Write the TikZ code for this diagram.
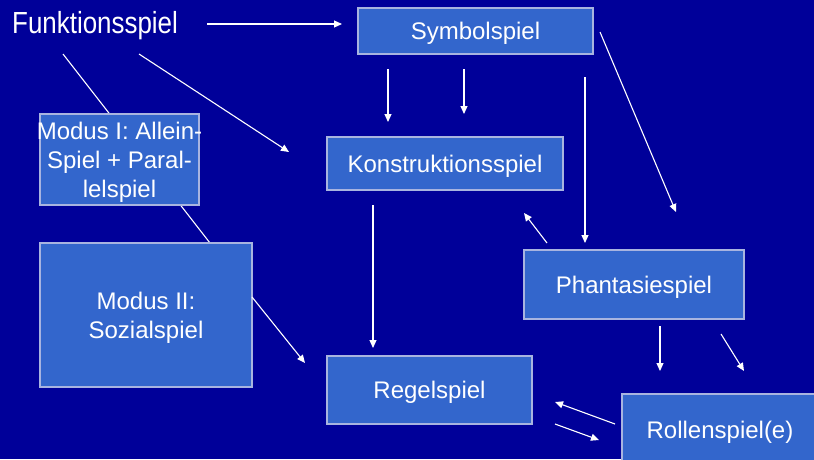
\documentclass[tikz,border=0pt]{standalone}
\usepackage{fontspec}
\setmainfont{Liberation Sans}
\newfontfamily\narrowfont[FakeStretch=0.85]{Liberation Sans}
\usetikzlibrary{arrows.meta}

\definecolor{slidebg}{HTML}{000099}
\definecolor{boxfill}{HTML}{3366CC}
\definecolor{boxline}{HTML}{A8B4E0}

\begin{document}
\begin{tikzpicture}[x=1pt, y=-1pt, every node/.style={text=white, font=\fontsize{24}{29}\selectfont}]
  % -----------------------------
  % STYLES
  % -----------------------------
  \tikzset{
    spielbox/.style={draw=boxline, fill=boxfill, line width=1.2pt, inner sep=0pt,
                     align=center, text depth=0pt},
    arr/.style={draw=white, line width=1.1pt, -{Triangle[length=8pt,width=7pt]}},
    plainln/.style={draw=white, line width=1.1pt},
  }

  % -----------------------------
  % SLIDE BACKGROUND
  % -----------------------------
  \clip (0,0) rectangle (814,459);
  \fill[slidebg] (0,0) rectangle (814,459);

  % -----------------------------
  % FREE ARROW ENDS
  % -----------------------------
  \coordinate (fA) at (207,24);   \coordinate (sA) at (342,24);
  \coordinate (fL) at (63,54);    \coordinate (mL) at (210,243);
  \coordinate (fB) at (139,54);   \coordinate (kB) at (289,152);
  \coordinate (mC) at (252,297);  \coordinate (rC) at (305,363);
  \coordinate (s1) at (388,69);   \coordinate (k1) at (388,122);
  \coordinate (s2) at (464,69);   \coordinate (k2) at (464,114);
  \coordinate (s3) at (585,77);   \coordinate (p3) at (585,243);
  \coordinate (s4) at (600,32);   \coordinate (p4) at (676,212);
  \coordinate (p5) at (547,243);  \coordinate (k5) at (524,213);
  \coordinate (k6) at (373,205);  \coordinate (r6) at (373,348);
  \coordinate (p7) at (660,326);  \coordinate (o7) at (660,371);
  \coordinate (p8) at (721,334);  \coordinate (o8) at (744,371);
  \coordinate (o9) at (615,424);  \coordinate (r9) at (555,402);
  \coordinate (r10) at (555,424); \coordinate (o10) at (599,440);

  % line behind Modus I
  \draw[plainln] (fL) -- (mL);

  % -----------------------------
  % NODES
  % -----------------------------
  \node[anchor=base west, inner sep=0pt, font=\narrowfont\fontsize{30.5}{34}\selectfont] (fkt) at (12,33) {Funktionsspiel};

  \node[spielbox, minimum width=235pt, minimum height=46pt] (symb)   at (475.5,31)  {Symbolspiel};
  \node[spielbox, minimum width=236pt, minimum height=53pt] (konstr) at (445,163.5) {Konstruktionsspiel};
  \node[spielbox, minimum width=220pt, minimum height=69pt] (phant)  at (634,284.5) {Phantasiespiel};
  \node[spielbox, minimum width=205pt, minimum height=68pt] (regel)  at (429.5,390) {Regelspiel};
  \node[spielbox, minimum width=196pt, minimum height=72pt] (rollen) at (720,430)   {Rollenspiel(e)};
  \node[spielbox, minimum width=159pt, minimum height=91pt] (modI)   at (119.5,159.5)
    {\makebox[150pt]{Modus I: Allein-}\\Spiel + Paral-\\lelspiel};
  \node[spielbox, minimum width=212pt, minimum height=144pt] (modII) at (146,315)
    {Modus II:\\ Sozialspiel};

  % -----------------------------
  % ARROWS
  % -----------------------------
  \draw[arr] (fA) -- (sA);
  \draw[arr] (fB) -- (kB);
  \draw[arr] (mC) -- (rC);
  \draw[arr] (s1) -- (k1);
  \draw[arr] (s2) -- (k2);
  \draw[arr] (s3) -- (p3);
  \draw[arr] (s4) -- (p4);
  \draw[arr] (p5) -- (k5);
  \draw[arr] (k6) -- (r6);
  \draw[arr] (p7) -- (o7);
  \draw[arr] (p8) -- (o8);
  \draw[arr] (o9) -- (r9);
  \draw[arr] (r10) -- (o10);
\end{tikzpicture}
\end{document}
